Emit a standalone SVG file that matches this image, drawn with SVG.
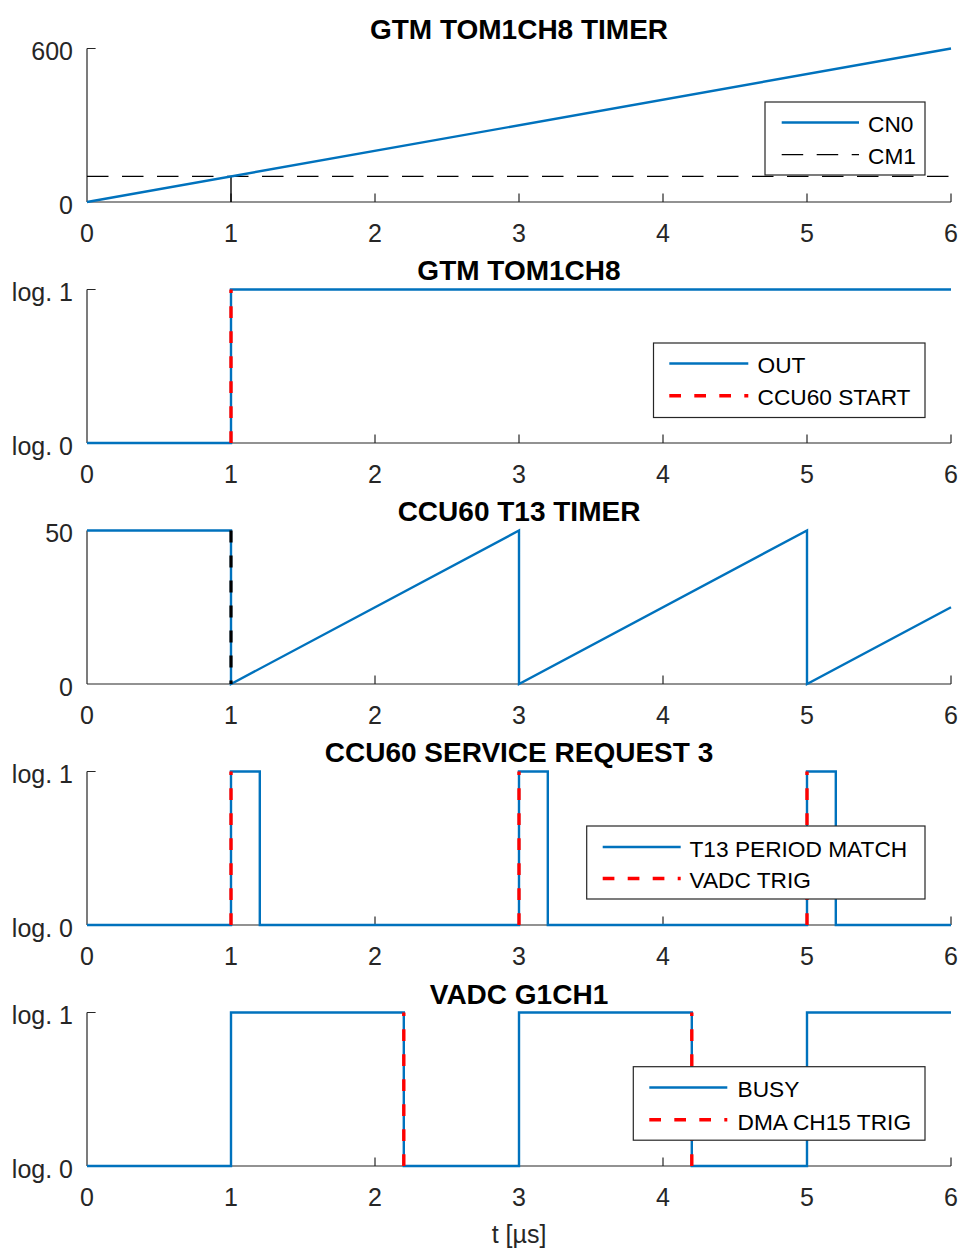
<svg xmlns="http://www.w3.org/2000/svg" width="961" height="1250" viewBox="0 0 961 1250">
  <style>
    .ax { fill: none; stroke: #262626; stroke-width: 1.2; }
    .tk { font-family: "Liberation Sans", Arial, sans-serif; font-size: 25px; fill: #262626; }
    .xt { text-anchor: middle; }
    .yt { text-anchor: end; }
    .ttl { font-family: "Liberation Sans", Arial, sans-serif; font-size: 28px; font-weight: bold; fill: #000; text-anchor: middle; }
    .sig { fill: none; stroke: #0072BD; stroke-width: 2.4; stroke-linejoin: miter; }
    .red { fill: none; stroke: #FF0000; stroke-width: 3.4; stroke-dasharray: 11.7 13.3; }
    .blk { fill: none; stroke: #000; stroke-width: 3.2; stroke-dasharray: 12 13; }
    .cm { fill: none; stroke: #000; stroke-width: 1.3; stroke-dasharray: 21.5 13.5; }
    .thin { fill: none; stroke: #000; stroke-width: 1.4; }
    .lgbox { fill: #fff; stroke: #262626; stroke-width: 1.2; }
    .lg { font-family: "Liberation Sans", Arial, sans-serif; font-size: 22.7px; fill: #000; }
  </style>
  <rect width="961" height="1250" fill="#fff"/>

  <!-- x-axis with ticks at t = 0..6 µs, 144 px per µs -->
  <defs>
    <g id="xaxis">
      <path class="ax" d="M87 0 H951 M231 0 V-8.6 M375 0 V-8.6 M519 0 V-8.6 M663 0 V-8.6 M807 0 V-8.6 M951 0 V-8.6"/>
      <text class="tk xt" x="87" y="39.7">0</text>
      <text class="tk xt" x="231" y="39.7">1</text>
      <text class="tk xt" x="375" y="39.7">2</text>
      <text class="tk xt" x="519" y="39.7">3</text>
      <text class="tk xt" x="663" y="39.7">4</text>
      <text class="tk xt" x="807" y="39.7">5</text>
      <text class="tk xt" x="951" y="39.7">6</text>
    </g>
  </defs>

  <!-- GTM TOM1CH8 TIMER -->
  <g id="plot-tom-timer">
    <text class="ttl" x="519" y="39">GTM TOM1CH8 TIMER</text>
    <path class="ax" d="M87 48.5 V202 M87 48.5 H95.6"/>
    <use href="#xaxis" y="202"/>
    <text class="tk yt" x="73" y="60">600</text>
    <text class="tk yt" x="73" y="213.5">0</text>
    <path class="cm" d="M87 176.4 H951"/>
    <path class="thin" d="M231 176.4 V202"/>
    <path class="sig" d="M87 202 L951 48.5"/>
    <g id="legend-tom-timer">
      <rect class="lgbox" x="765" y="102" width="160" height="73"/>
      <path class="sig" d="M781.7 122.5 H859"/>
      <path class="cm" d="M781.7 154.7 H859"/>
      <text class="lg" x="868" y="131.8">CN0</text>
      <text class="lg" x="868" y="163.6">CM1</text>
    </g>
  </g>

  <!-- GTM TOM1CH8 output -->
  <g id="plot-tom-out">
    <text class="ttl" x="519" y="280">GTM TOM1CH8</text>
    <path class="ax" d="M87 289.5 V443 M87 289.5 H95.6"/>
    <use href="#xaxis" y="443"/>
    <text class="tk yt" x="73" y="301">log. 1</text>
    <text class="tk yt" x="73" y="454.5">log. 0</text>
    <path class="sig" d="M87 443 H231 V289.5 H951"/>
    <path class="red" d="M231 443 V289.5"/>
    <g id="legend-tom-out">
      <rect class="lgbox" x="653.5" y="343" width="271.5" height="74.5"/>
      <path class="sig" d="M669.3 363.5 H748.3"/>
      <path class="red" d="M669.3 395.7 H748.3"/>
      <text class="lg" x="757.5" y="373">OUT</text>
      <text class="lg" x="757.5" y="405">CCU60 START</text>
    </g>
  </g>

  <!-- CCU60 T13 TIMER -->
  <g id="plot-t13-timer">
    <text class="ttl" x="519" y="521">CCU60 T13 TIMER</text>
    <path class="ax" d="M87 530.5 V684 M87 530.5 H95.6"/>
    <use href="#xaxis" y="684"/>
    <text class="tk yt" x="73" y="542">50</text>
    <text class="tk yt" x="73" y="695.5">0</text>
    <path class="sig" d="M87 530.5 H231 V684 L519 530.5 V684 L807 530.5 V684 L951 607.25"/>
    <path class="blk" d="M231 530.5 V684"/>
  </g>

  <!-- CCU60 SERVICE REQUEST 3 -->
  <g id="plot-ccu60-sr3">
    <text class="ttl" x="519" y="762">CCU60 SERVICE REQUEST 3</text>
    <path class="ax" d="M87 771.5 V925 M87 771.5 H95.6"/>
    <use href="#xaxis" y="925"/>
    <text class="tk yt" x="73" y="783">log. 1</text>
    <text class="tk yt" x="73" y="936.5">log. 0</text>
    <path class="sig" d="M87 925 H231 V771.5 H259.8 V925 H519 V771.5 H547.8 V925 H807 V771.5 H835.8 V925 H951"/>
    <path class="red" d="M231 925 V771.5 M519 925 V771.5 M807 925 V771.5"/>
    <g id="legend-ccu60-sr3">
      <rect class="lgbox" x="586.7" y="826" width="338.3" height="73"/>
      <path class="sig" d="M602.7 847 H680.7"/>
      <path class="red" d="M602.7 878.5 H680.7"/>
      <text class="lg" x="689.5" y="856.7">T13 PERIOD MATCH</text>
      <text class="lg" x="689.5" y="888.3">VADC TRIG</text>
    </g>
  </g>

  <!-- VADC G1CH1 -->
  <g id="plot-vadc">
    <text class="ttl" x="519" y="1003.5">VADC G1CH1</text>
    <path class="ax" d="M87 1012.5 V1166 M87 1012.5 H95.6"/>
    <use href="#xaxis" y="1166"/>
    <text class="tk yt" x="73" y="1024">log. 1</text>
    <text class="tk yt" x="73" y="1177.5">log. 0</text>
    <path class="sig" d="M87 1166 H231 V1012.5 H403.8 V1166 H519 V1012.5 H691.8 V1166 H807 V1012.5 H951"/>
    <path class="red" d="M403.8 1166 V1012.5 M691.8 1166 V1012.5"/>
    <g id="legend-vadc">
      <rect class="lgbox" x="633.3" y="1066.7" width="291.7" height="73.5"/>
      <path class="sig" d="M649.3 1087.5 H727.3"/>
      <path class="red" d="M649.3 1119.7 H727.3"/>
      <text class="lg" x="737.5" y="1097.3">BUSY</text>
      <text class="lg" x="737.5" y="1130">DMA CH15 TRIG</text>
    </g>
    <text class="tk xt" x="519" y="1243">t [µs]</text>
  </g>
</svg>
